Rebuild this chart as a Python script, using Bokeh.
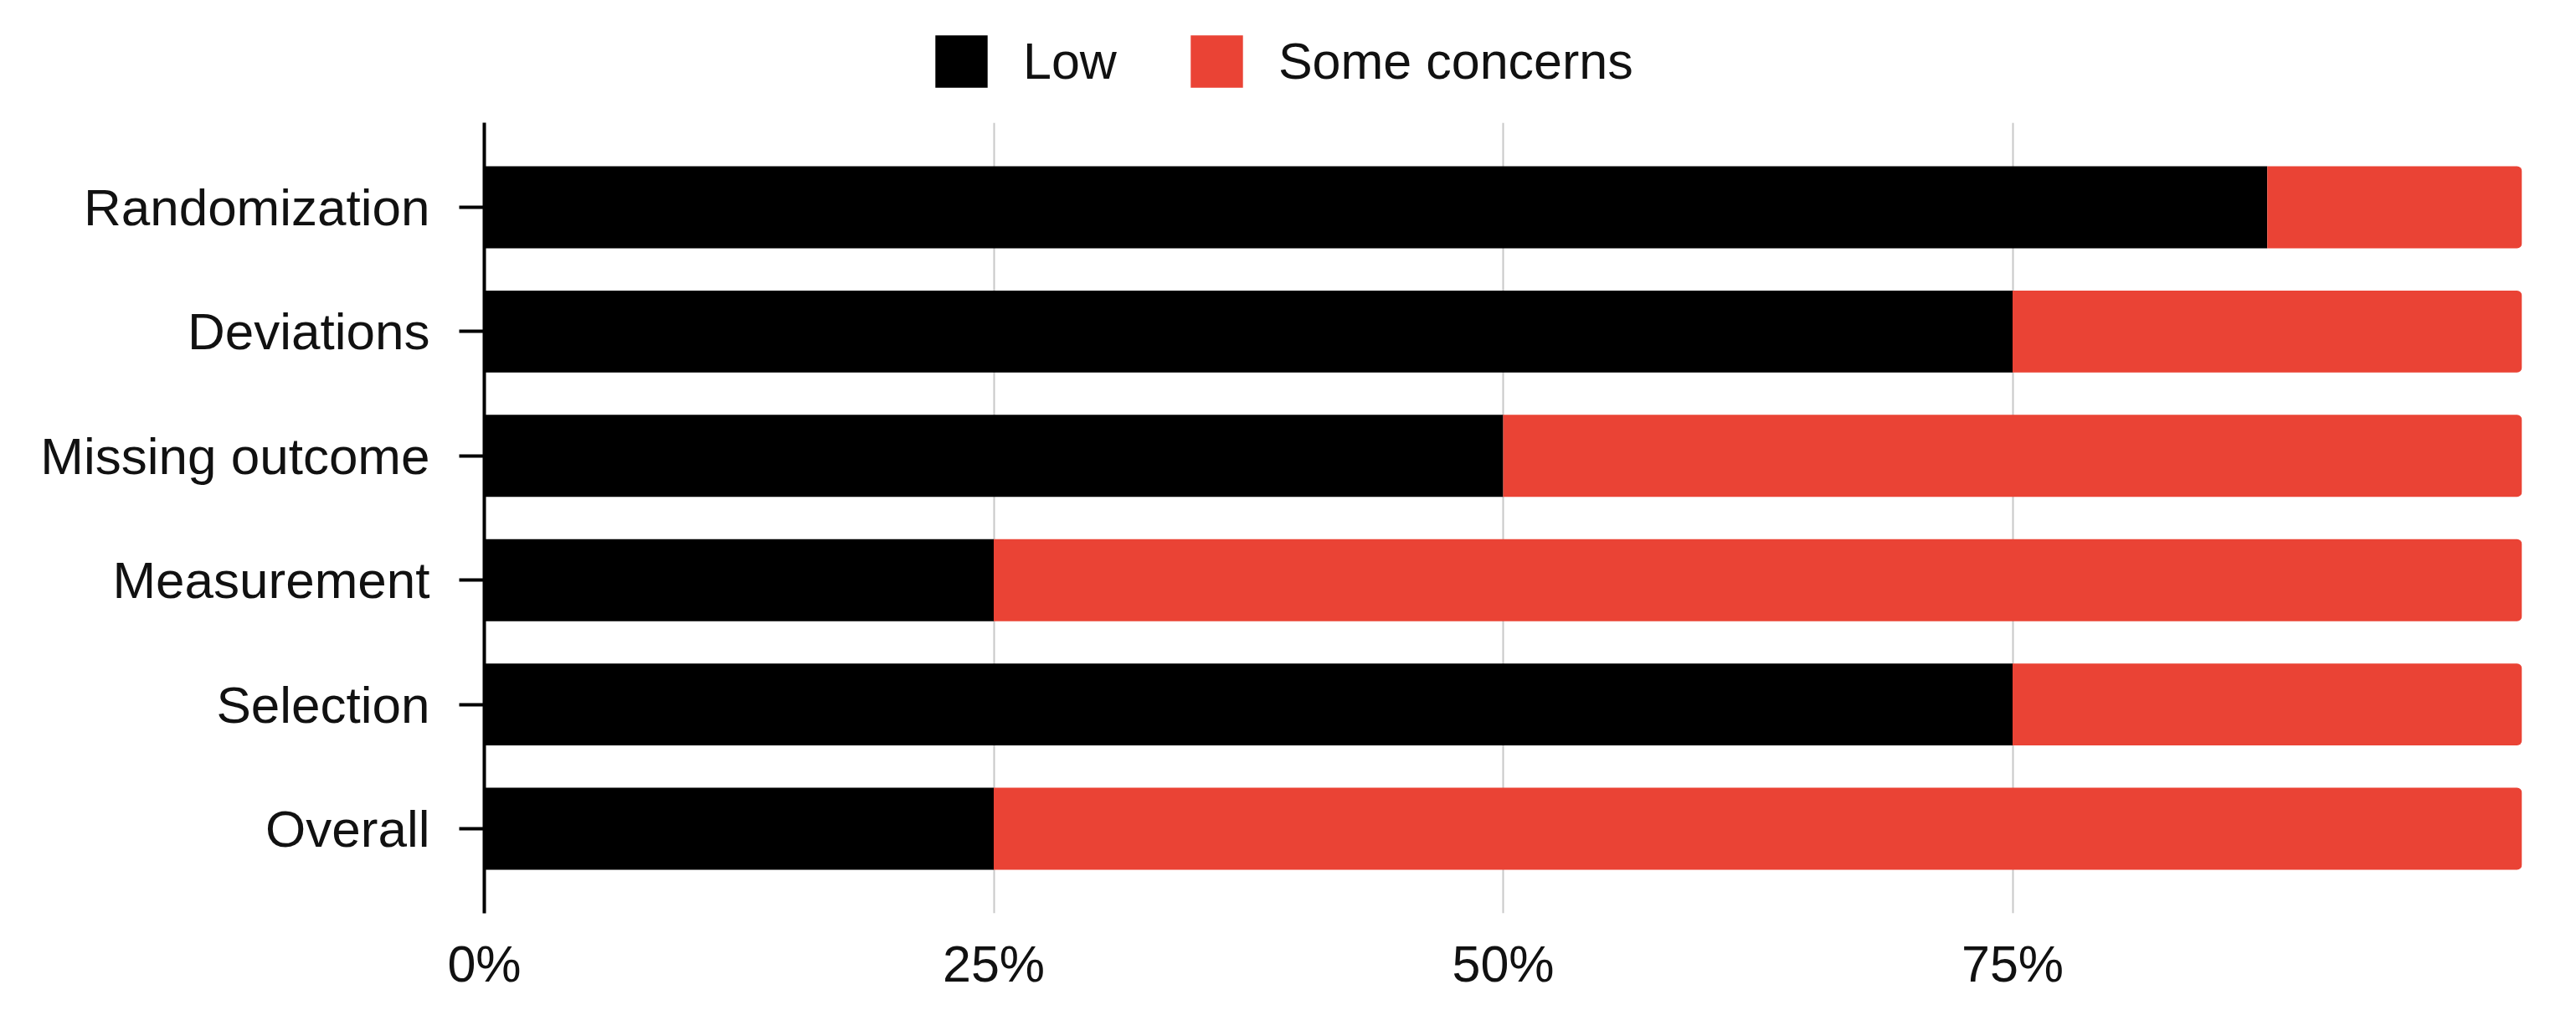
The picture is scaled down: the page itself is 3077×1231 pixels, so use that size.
from bokeh.plotting import figure
from bokeh.layouts import column
from bokeh.models import FactorRange, Range1d, FixedTicker, Legend, LegendItem
from bokeh.embed import file_html
from bokeh.resources import INLINE

# ---- data ----
domains = ["Randomization", "Deviations", "Missing outcome", "Measurement", "Selection", "Overall"]
low = [87.5, 75, 50, 25, 75, 25]
some_concerns = [12.5, 25, 50, 75, 25, 75]
series_names = ["Low", "Some concerns"]
series_colors = ["#000000", "#EA4335"]
x_ticks = [0, 25, 50, 75, 100]
x_tick_labels = ["0%", "25%", "50%", "75%", ""]

data = dict(domain=domains, low=low, some=some_concerns)

FONT = "Liberation Sans"
TEXT = "#111111"
W = 3061

# ---- main chart ----
p = figure(
    y_range=FactorRange(factors=list(reversed(domains)), range_padding=0.18,
                        range_padding_units="absolute"),
    x_range=Range1d(0, 100),
    frame_width=2434, frame_height=944,
    min_border_left=578, min_border_right=49, min_border_top=0, min_border_bottom=125,
    output_backend="svg", toolbar_location=None,
)

rs = p.hbar_stack(["low", "some"], y="domain", height=0.66, source=data,
                  color=series_colors, line_color=None)
try:
    rs[1].glyph.border_radius = (0, 6, 6, 0)
except Exception:
    pass

p.xaxis.ticker = FixedTicker(ticks=x_ticks)
p.xaxis.major_label_overrides = {t: l for t, l in zip(x_ticks, x_tick_labels)}
p.xaxis.axis_line_color = None
p.xaxis.major_tick_line_color = None
p.xaxis.minor_tick_line_color = None
p.xaxis.major_label_standoff = 20
p.xaxis.major_label_text_font = FONT
p.xaxis.major_label_text_font_size = "61px"
p.xaxis.major_label_text_color = TEXT

p.yaxis.axis_line_width = 4
p.yaxis.axis_line_color = "#000000"
p.yaxis.major_tick_line_width = 4
p.yaxis.major_tick_out = 30
p.yaxis.major_tick_in = 0
p.yaxis.minor_tick_line_color = None
p.yaxis.major_label_standoff = 35
p.yaxis.major_label_text_font = FONT
p.yaxis.major_label_text_font_size = "62px"
p.yaxis.major_label_text_color = TEXT

p.xgrid.grid_line_color = "#c8c8c8"
p.xgrid.grid_line_width = 2
p.ygrid.grid_line_color = None
p.outline_line_color = None

# ---- legend strip above the chart ----
pl = figure(width=W, height=146,
            y_range=FactorRange(factors=list(reversed(domains))), x_range=Range1d(0, 100),
            min_border=0, min_border_left=578, min_border_right=49,
            x_axis_location=None, y_axis_location=None,
            output_backend="svg", toolbar_location=None)
pl.grid.visible = False
pl.outline_line_color = None
swatches = pl.hbar_stack(["low", "some"], y="domain", height=0.66, source=data,
                         color=series_colors, line_color=None)
for r in swatches:
    r.visible = False  # only used as legend swatches
lg = Legend(items=[LegendItem(label=n, renderers=[r]) for n, r in zip(series_names, swatches)])
lg.orientation = "horizontal"
lg.location = (531, 34)
lg.padding = 0
lg.margin = 0
lg.border_line_color = None
lg.background_fill_alpha = 0
lg.inactive_fill_alpha = 0
lg.glyph_width = 78
lg.glyph_height = 78
lg.label_standoff = 35
lg.spacing = 80
lg.label_text_font = FONT
lg.label_text_font_size = "61px"
lg.label_text_color = TEXT
pl.add_layout(lg, "center")

layout = column(pl, p, spacing=0)
open("out.html", "w").write(file_html(layout, INLINE))
